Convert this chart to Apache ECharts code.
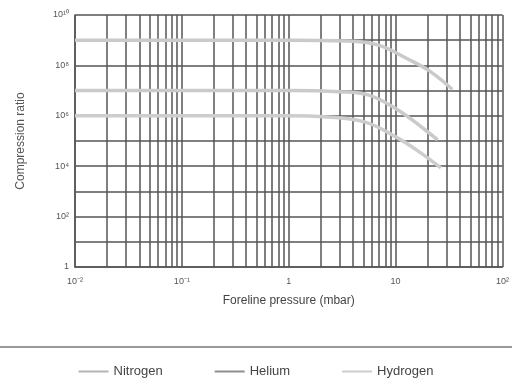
<!DOCTYPE html>
<html>
<head>
<meta charset="utf-8">
<script src="https://cdn.jsdelivr.net/npm/echarts@6/dist/echarts.min.js"></script>
<style>html,body{margin:0;padding:0;background:#fff;}#c{width:512px;height:389px;}</style>
</head>
<body>
<div id="c"></div>
<script>
// Data
const seriesNames = ['Nitrogen', 'Helium', 'Hydrogen'];
const nitrogen = [[0.01, 1e9], [0.1, 1e9], [1, 1e9], [3.5, 9.3e8], [6.9, 6.4e8], [13, 1.8e8], [21, 5.8e7], [34, 1.1e7]];
const helium = [[0.01, 1e7], [0.1, 1e7], [1, 1e7], [3, 9e6], [5.5, 6.8e6], [10.5, 1.7e6], [18.8, 2.8e5], [24.8, 1.1e5]];
const hydrogen = [[0.01, 1e6], [0.1, 1e6], [1, 1e6], [2.3, 9e5], [5.2, 5.6e5], [10.5, 1.3e5], [17.3, 3.3e4], [26.5, 8.5e3]];
const xTickLabels = {'0.01': '10⁻²', '0.1': '10⁻¹', '1': '1', '10': '10', '100': '10²'};
const yDecades = [1, 10, 100, 1e3, 1e4, 1e5, 1e6, 1e7, 1e8, 1e9, 1e10];
const yTickLabels = ['1', '', '10²', '', '10⁴', '', '10⁶', '', '10⁸', '', '10¹⁰'];
const xMinorGrid = [0.02,0.03,0.04,0.05,0.06,0.07,0.08,0.09,0.2,0.3,0.4,0.5,0.6,0.7,0.8,0.9,2,3,4,5,6,7,8,9,20,30,40,50,60,70,80,90];

const gridColor = '#555';
const chart = echarts.init(document.getElementById('c'));
function fmt(map, v) {
  const k = String(Math.round(v * 1e6) / 1e6);
  return map[k] !== undefined ? map[k] : '';
}
chart.setOption({
  animation: false,
  backgroundColor: '#fff',
  textStyle: {fontFamily: 'Liberation Sans'},
  grid: {left: 75, right: 8, top: 15, bottom: 122, containLabel: false},
  xAxis: {
    type: 'log', logBase: 10, min: 0.01, max: 100, splitNumber: 4,
    name: 'Foreline pressure (mbar)', nameLocation: 'middle', nameGap: 28,
    nameTextStyle: {fontSize: 12, color: '#444'},
    axisLine: {lineStyle: {color: gridColor, width: 1.5}},
    axisTick: {show: false},
    axisLabel: {fontSize: 9, color: '#555', margin: 10, formatter: v => fmt(xTickLabels, v)},
    splitLine: {show: true, lineStyle: {color: gridColor, width: 1.5}}
  },
  yAxis: {
    type: 'log', logBase: 10, min: 1, max: 1e10,
    name: 'Compression ratio', nameLocation: 'middle', nameGap: 48,
    nameTextStyle: {fontSize: 12, color: '#555'},
    axisLine: {lineStyle: {color: gridColor, width: 1.5}},
    axisTick: {show: false},
    axisLabel: {show: false},
    splitLine: {show: false}
  },
  legend: {
    bottom: 6, left: 'center', itemWidth: 30, itemHeight: 10, itemGap: 52,
    icon: 'path://M0,4L30,4L30,6L0,6Z',
    textStyle: {fontSize: 13, color: '#444'},
    data: seriesNames
  },
  graphic: [{
    type: 'line', shape: {x1: 0, y1: 347, x2: 512, y2: 347},
    style: {stroke: '#999', lineWidth: 2}
  }],
  series: [
    {name: 'Nitrogen', type: 'line', data: nitrogen, smooth: 0.4, showSymbol: false,
     itemStyle: {color: '#b5b5b5'}, lineStyle: {color: '#cacaca', width: 3.5}, z: 5},
    {name: 'Helium', type: 'line', data: helium, smooth: 0.4, showSymbol: false,
     itemStyle: {color: '#8e8e8e'}, lineStyle: {color: '#cacaca', width: 3.5}, z: 5},
    {name: 'Hydrogen', type: 'line', data: hydrogen, smooth: 0.4, showSymbol: false,
     itemStyle: {color: '#cccccc'}, lineStyle: {color: '#cdcdcd', width: 3.5}, z: 5},
    {name: 'grid', type: 'line', data: [], silent: true, z: 1,
     markLine: {silent: true, symbol: 'none',
       lineStyle: {color: gridColor, width: 1.5, type: 'solid'},
       data: xMinorGrid.map(v => ({xAxis: v, label: {show: false}})).concat(
         yDecades.map((v, i) => ({yAxis: v, label: {show: yTickLabels[i] !== '', position: 'start',
           formatter: yTickLabels[i], fontSize: 9, color: '#555', distance: 6}})))}}
  ]
});
</script>
</body>
</html>
